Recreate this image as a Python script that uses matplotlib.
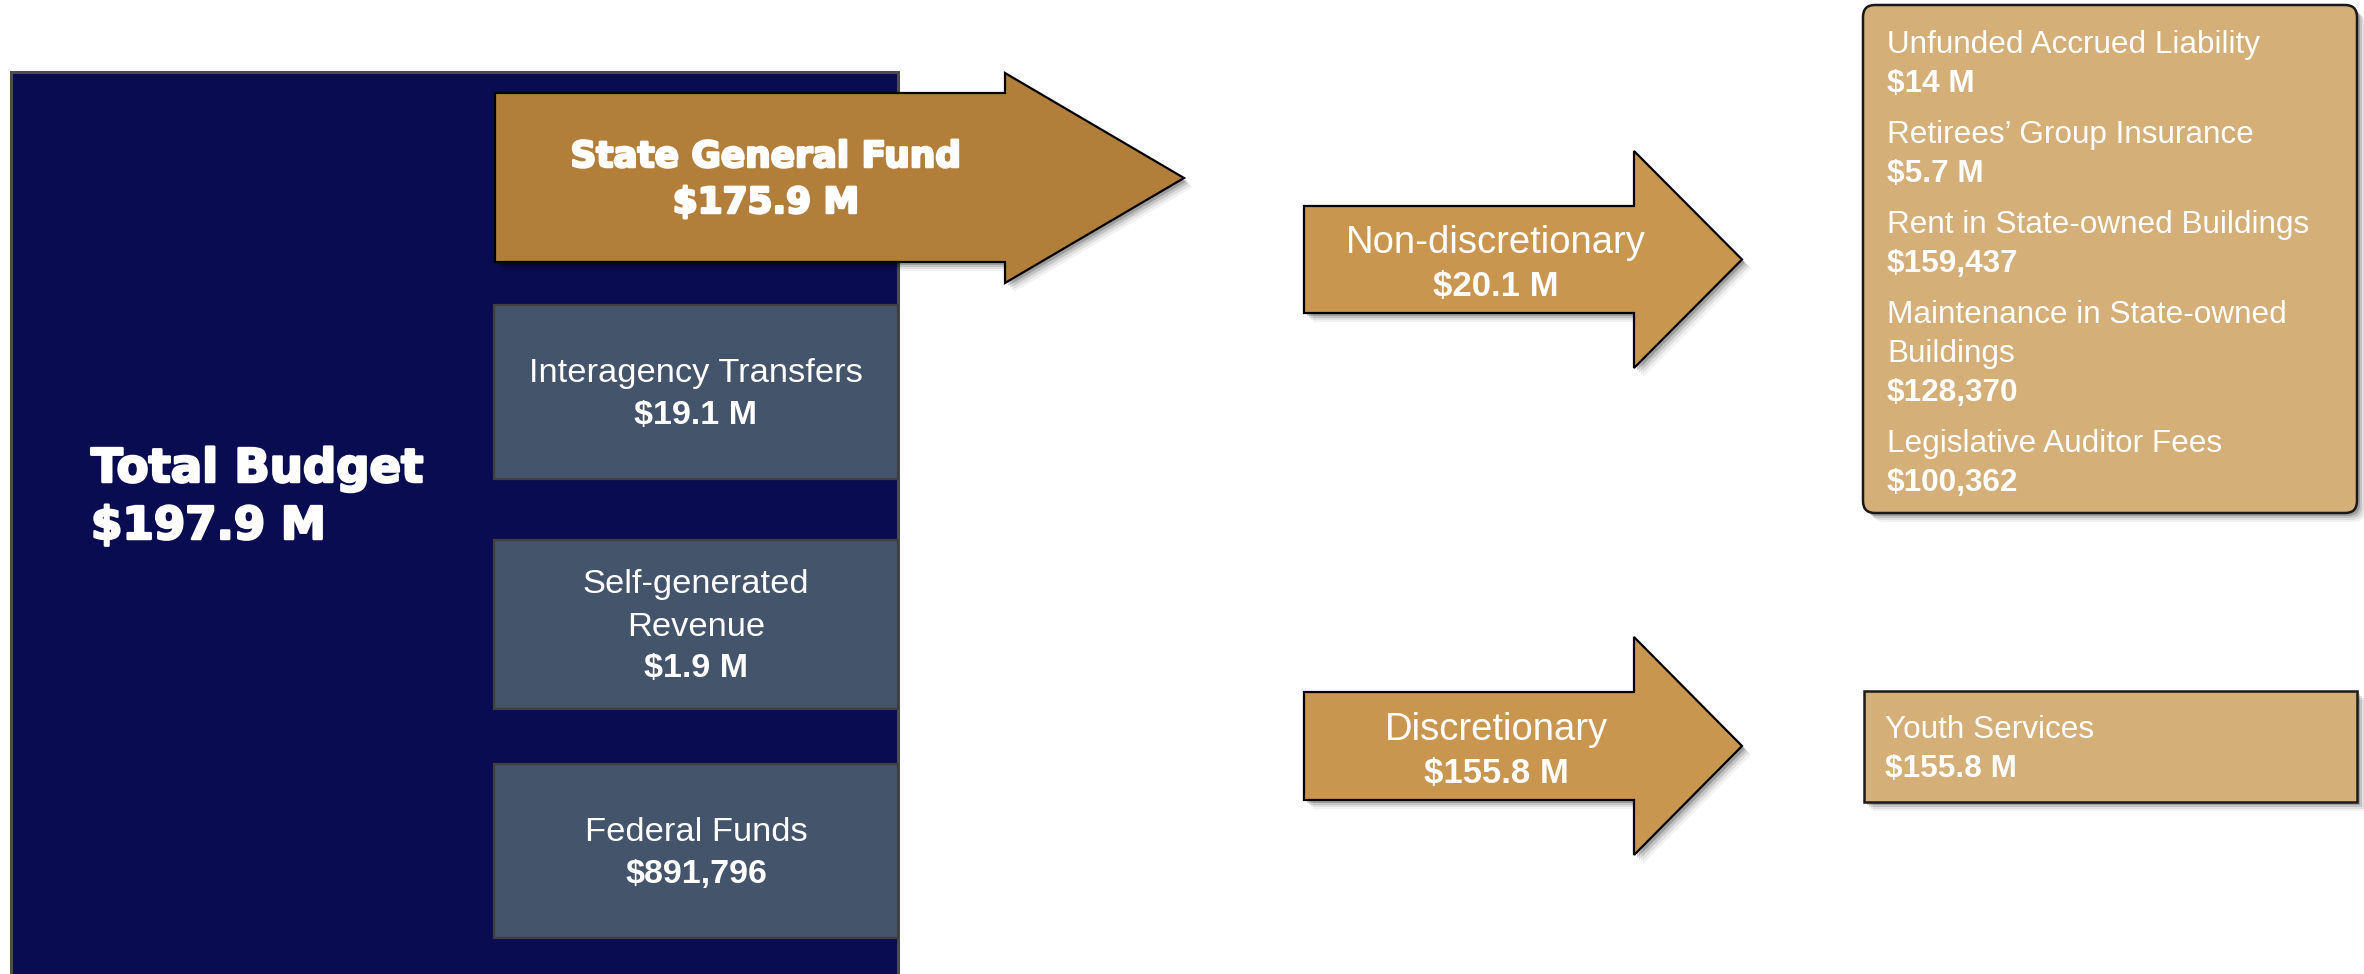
import matplotlib
matplotlib.use("Agg")
import matplotlib.pyplot as plt
from matplotlib.patches import Polygon, Rectangle, FancyBboxPatch
import matplotlib.patheffects as pe

# ---------------- data ----------------
total_label = "Total Budget"
total_value = "$197.9 M"
sgf_label = "State General Fund"
sgf_value = "$175.9 M"
source_labels = ["Interagency Transfers", "Self-generated\nRevenue", "Federal Funds"]
source_values = ["$19.1 M", "$1.9 M", "$891,796"]
split_labels = ["Non-discretionary", "Discretionary"]
split_values = ["$20.1 M", "$155.8 M"]
nondisc_items = ["Unfunded Accrued Liability", "Retirees\u2019 Group Insurance",
                 "Rent in State-owned Buildings", "Maintenance in State-owned\nBuildings",
                 "Legislative Auditor Fees"]
nondisc_values = ["$14 M", "$5.7 M", "$159,437", "$128,370", "$100,362"]
disc_items = ["Youth Services"]
disc_values = ["$155.8 M"]

# ---------------- style ----------------
NAVY = "#0A0C52"
SLATE = "#44546A"
SGF = "#B17F3A"
SPLIT = "#C9964F"
BOX = "#D4AF78"
REG = "Liberation Sans"
HEAVY = "DejaVu Sans"

W, H = 2364, 974
fig = plt.figure(figsize=(W / 100, H / 100), dpi=100)
ax = fig.add_axes([0, 0, 1, 1])
ax.set_xlim(0, W)
ax.set_ylim(H, 0)
ax.axis("off")


def shadow_poly(pts, z):
    for k, a in zip([3, 5, 7, 9], [0.18, 0.12, 0.08, 0.05]):
        ax.add_patch(Polygon([(x + k, y + k) for x, y in pts], closed=True,
                             facecolor="black", edgecolor="none", alpha=a, zorder=z))


def arrow_pts(x0, x1, xt, yb0, yb1, yh0, yh1):
    yc = (yh0 + yh1) / 2
    return [(x0, yb0), (x1, yb0), (x1, yh0), (xt, yc), (x1, yh1), (x1, yb1), (x0, yb1)]


def shadow_box(x, y, w, h, z, rounded=False):
    for k, a in zip([3, 5, 7, 9], [0.18, 0.12, 0.08, 0.05]):
        if rounded:
            p = FancyBboxPatch((x + k, y + k), w, h, boxstyle="round,pad=0,rounding_size=12",
                               facecolor="black", edgecolor="none", alpha=a, zorder=z)
        else:
            p = Rectangle((x + k, y + k), w, h, facecolor="black", edgecolor="none", alpha=a, zorder=z)
        ax.add_patch(p)


heavy_fx = [pe.withStroke(linewidth=1.8, foreground="white")]

# ---------------- total budget block ----------------
ax.add_patch(Rectangle((11, 72), 887, 960, facecolor=NAVY, edgecolor="#4D4D4D", lw=2.2, zorder=1))
ax.text(91, 482, total_label, color="white", fontsize=33.5, fontweight="bold",
        family=HEAVY, va="baseline", ha="left", zorder=5, path_effects=heavy_fx)
ax.text(91, 539, total_value, color="white", fontsize=32.5, fontweight="bold",
        family=HEAVY, va="baseline", ha="left", zorder=5, path_effects=heavy_fx)

# ---------------- source boxes ----------------
src_tops = [305, 540, 764]
src_bottoms = [479, 709, 938]
bx0, bx1 = 494, 898
for lab, val, t, b in zip(source_labels, source_values, src_tops, src_bottoms):
    ax.add_patch(Rectangle((bx0, t), bx1 - bx0, b - t, facecolor=SLATE,
                           edgecolor="#3F3F3F", lw=1.6, zorder=2))
    lines = lab.split("\n")
    n = len(lines) + 1
    cy = (t + b) / 2 + 11
    cx = (bx0 + bx1) / 2
    for i, ln in enumerate(lines):
        ax.text(cx, cy + (i - (n - 1) / 2) * 42, ln, color="white", fontsize=24.8,
                family=REG, ha="center", va="baseline", zorder=5)
    ax.text(cx, cy + (n - 1 - (n - 1) / 2) * 42, val, color="white", fontsize=24.5,
            family=REG, fontweight="bold", ha="center", va="baseline", zorder=5)

# ---------------- State General Fund arrow ----------------
pts = arrow_pts(495, 1005, 1184, 93, 262, 73, 283)
shadow_poly(pts, 3)
ax.add_patch(Polygon(pts, closed=True, facecolor=SGF, edgecolor="black", lw=1.6, zorder=4))
ax.text(766, 167, sgf_label, color="white", fontsize=25.8, fontweight="bold",
        family=HEAVY, ha="center", va="baseline", zorder=5, path_effects=heavy_fx)
ax.text(766, 213, sgf_value, color="white", fontsize=25.8, fontweight="bold",
        family=HEAVY, ha="center", va="baseline", zorder=5, path_effects=heavy_fx)

# ---------------- split arrows ----------------
arrow_geom = [(206, 313, 151, 368), (692, 800, 637, 855)]
for lab, val, (yb0, yb1, yh0, yh1) in zip(split_labels, split_values, arrow_geom):
    pts = arrow_pts(1304, 1634, 1742, yb0, yb1, yh0, yh1)
    shadow_poly(pts, 3)
    ax.add_patch(Polygon(pts, closed=True, facecolor=SPLIT, edgecolor="black", lw=1.6, zorder=4))
    cy = (yh0 + yh1) / 2 + 15
    ax.text(1496, cy - 21.5, lab, color="white", fontsize=27.5, family=REG,
            ha="center", va="baseline", zorder=5)
    ax.text(1496, cy + 21.5, val, color="white", fontsize=25, family=REG,
            fontweight="bold", ha="center", va="baseline", zorder=5)

# ---------------- right boxes ----------------
# non-discretionary list box (rounded)
shadow_box(1863, 5, 494, 508, 3, rounded=True)
ax.add_patch(FancyBboxPatch((1863, 5), 494, 508, boxstyle="round,pad=0,rounding_size=12",
                            facecolor=BOX, edgecolor="#1A1A1A", lw=1.8, zorder=4))
y = 53
for lab, val in zip(nondisc_items, nondisc_values):
    for ln in lab.split("\n"):
        ax.text(1887, y, ln, color="white", fontsize=22.7, family=REG,
                ha="left", va="baseline", zorder=5)
        y += 39
    ax.text(1887, y, val, color="white", fontsize=22.7, family=REG, fontweight="bold",
            ha="left", va="baseline", zorder=5)
    y += 51

# discretionary box
shadow_box(1864, 691, 493, 111, 3)
ax.add_patch(Rectangle((1864, 691), 493, 111, facecolor=BOX, edgecolor="#1A1A1A", lw=1.8, zorder=4))
y = 738
for lab, val in zip(disc_items, disc_values):
    ax.text(1885, y, lab, color="white", fontsize=22.7, family=REG,
            ha="left", va="baseline", zorder=5)
    ax.text(1885, y + 39, val, color="white", fontsize=22.7, family=REG, fontweight="bold",
            ha="left", va="baseline", zorder=5)

fig.savefig("out.png", dpi=100, facecolor="white")
